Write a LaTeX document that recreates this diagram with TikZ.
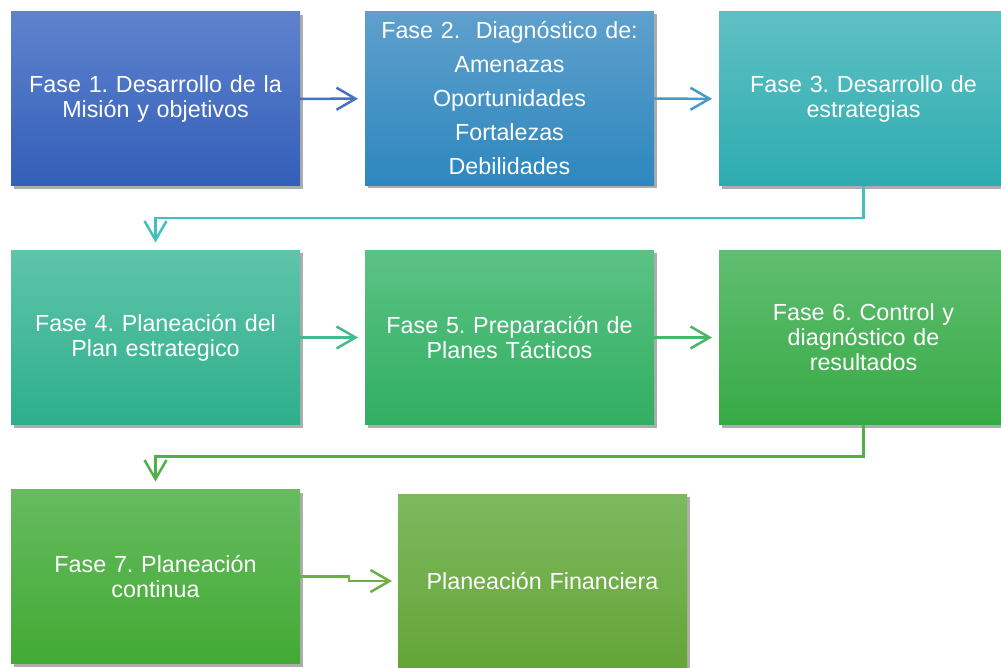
\documentclass[tikz,border=0pt]{standalone}
\usepackage{fontspec}
\setmainfont{Liberation Sans}
\usetikzlibrary{arrows.meta,shadows,backgrounds,calc}
\definecolor{t1}{RGB}{95,130,205}\definecolor{u1}{RGB}{50,95,185}
\definecolor{t2}{RGB}{95,160,205}\definecolor{u2}{RGB}{45,135,190}
\definecolor{t3}{RGB}{95,192,196}\definecolor{u3}{RGB}{45,172,176}
\definecolor{t4}{RGB}{95,196,170}\definecolor{u4}{RGB}{45,175,140}
\definecolor{t5}{RGB}{92,194,132}\definecolor{u5}{RGB}{48,175,98}
\definecolor{t6}{RGB}{96,190,112}\definecolor{u6}{RGB}{55,170,70}
\definecolor{t7}{RGB}{102,187,95}\definecolor{u7}{RGB}{66,170,52}
\definecolor{t8}{RGB}{125,185,95}\definecolor{u8}{RGB}{100,165,55}
\definecolor{a1}{RGB}{70,112,196}
\definecolor{a2}{RGB}{72,152,200}
\definecolor{a3}{RGB}{66,192,190}
\definecolor{a4}{RGB}{70,186,140}
\definecolor{a5}{RGB}{72,182,100}
\definecolor{a6}{RGB}{82,176,72}
\definecolor{a7}{RGB}{110,175,70}
\tikzset{
  phase/.style n args={2}{draw=none, rectangle, minimum width=289pt, minimum height=174pt,
    inner sep=0pt, outer sep=0pt, top color=#1, bottom color=#2,
    text=white, text width=280pt, align=center,
    font=\fontsize{23.3}{25}\selectfont\frenchspacing,
    drop shadow={shadow xshift=2.5pt, shadow yshift=-3pt, fill=black, opacity=0.32}},
  arr/.style={line width=2.5pt, -{Straight Barb[length=19pt,width=22pt]}},
  halo/.style={fill=black!5},
}
\begin{document}
\begin{tikzpicture}[x=1pt,y=-1pt]
\useasboundingbox (0,0) rectangle (1001,668);
\clip (0,0) rectangle (1001,668);
\fill[white] (0,0) rectangle (1001,668);
\node[phase={t1}{u1}] (b1) at (155.5,99) {Fase 1. Desarrollo de la\\Misión y objetivos};
\node[phase={t2}{u2}, font=\fontsize{23.3}{34}\selectfont\frenchspacing] (b2) at (509.5,98.5) {Fase 2.\ \ Diagnóstico de:\\Amenazas\\Oportunidades\\Fortalezas\\Debilidades};
\node[phase={t3}{u3}] (b3) at (863.5,99) {Fase 3. Desarrollo de\\estrategias};
\node[phase={t4}{u4}] (b4) at (155.5,337.5) {Fase 4. Planeación del\\Plan estrategico};
\node[phase={t5}{u5}] (b5) at (509.5,337.5) {Fase 5. Preparación de\\Planes Tácticos};
\node[phase={t6}{u6}] (b6) at (863.5,337.5) {Fase 6. Control y\\diagnóstico de\\resultados};
\node[phase={t7}{u7}] (b7) at (155.5,576.5) {Fase 7. Planeación\\continua};
\node[phase={t8}{u8}] (b8) at (542.5,581) {Planeación Financiera};
\begin{pgfonlayer}{background}
\foreach \n in {b1,b2,b3,b4,b5,b6,b7,b8}
  \fill[halo] ([xshift=-5pt,yshift=5pt]\n.north west) rectangle ([xshift=6pt,yshift=-7pt]\n.south east);
\end{pgfonlayer}
\draw[arr, a1, shorten >=7pt] (b1) -- (b2);
\draw[arr, a2, shorten >=7pt] (b2) -- (b3);
\draw[arr, a3, shorten >=8pt] (b3.south) -- ++(0,32) -| (b4.north);
\draw[arr, a4, shorten >=7pt] (b4) -- (b5);
\draw[arr, a5, shorten >=7pt] (b5) -- (b6);
\draw[arr, a6, shorten >=8pt] (b6.south) -- ++(0,32) -| (b7.north);
\draw[arr, a7, shorten >=6pt] (b7.east) -- ++(49,0) |- (b8.west);
\end{tikzpicture}
\end{document}
